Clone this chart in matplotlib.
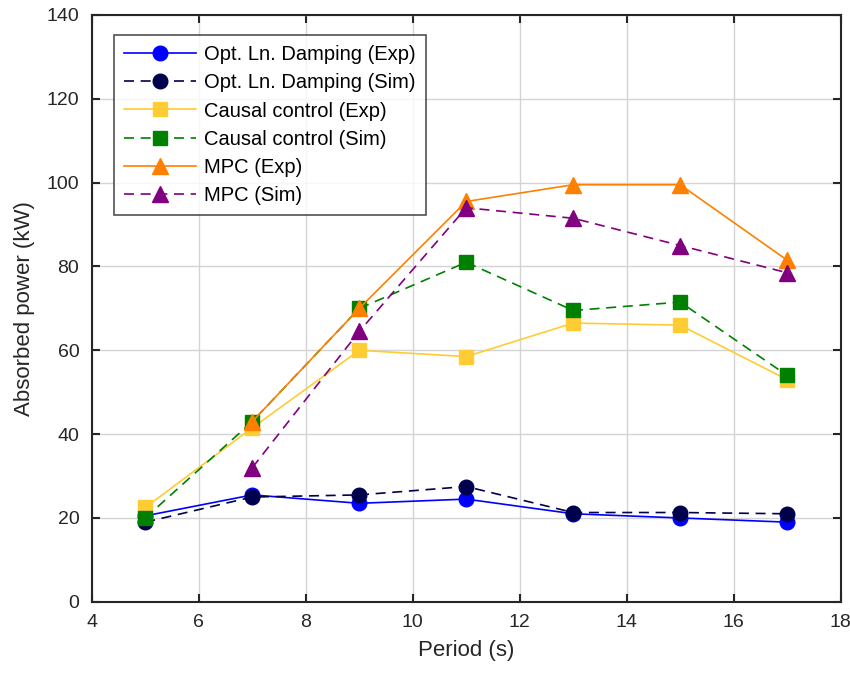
import matplotlib
matplotlib.use("Agg")
import matplotlib.pyplot as plt

plt.rcParams['font.family'] = ['Liberation Sans', 'DejaVu Sans']

periods = [5, 7, 9, 11, 13, 15, 17]
periods_mpc = [7, 9, 11, 13, 15, 17]
opt_exp = [20.5, 25.5, 23.5, 24.5, 21.0, 20.0, 19.0]
opt_sim = [19.0, 25.0, 25.5, 27.5, 21.3, 21.3, 21.0]
causal_exp = [22.5, 41.5, 60.0, 58.5, 66.5, 66.0, 53.0]
causal_sim = [20.0, 43.0, 70.0, 81.0, 69.5, 71.5, 54.0]
mpc_exp = [43.0, 70.0, 95.5, 99.5, 99.5, 81.5]
mpc_sim = [32.0, 64.5, 94.0, 91.5, 85.0, 78.5]

fig = plt.figure(figsize=(8.5, 6.8), dpi=100)
ax = fig.add_axes([0.108, 0.115, 0.881, 0.863])

ms = 10.5
lw = 1.2
dash = (0, (6, 4))
ax.plot(periods, opt_exp, '-', color=(0, 0, 1), marker='o', ms=ms, lw=lw, label='Opt. Ln. Damping (Exp)')
ax.plot(periods, opt_sim, linestyle=dash, color=(0, 0, 0.3), marker='o', ms=ms, lw=lw, label='Opt. Ln. Damping (Sim)')
ax.plot(periods, causal_exp, '-', color=(1, 0.8, 0.2), marker='s', ms=ms, lw=lw, label='Causal control (Exp)')
ax.plot(periods, causal_sim, linestyle=dash, color=(0, 0.5, 0), marker='s', ms=ms, lw=lw, label='Causal control (Sim)')
ax.plot(periods_mpc, mpc_exp, '-', color=(1, 0.5, 0), marker='^', ms=ms + 1, lw=lw, label='MPC (Exp)')
ax.plot(periods_mpc, mpc_sim, linestyle=dash, color=(0.5, 0, 0.5), marker='^', ms=ms + 1, lw=lw, label='MPC (Sim)')

ax.set_xlim(4, 18)
ax.set_ylim(0, 140)
ax.set_xticks(range(4, 19, 2))
ax.set_yticks(range(0, 141, 20))
ax.grid(True, color='#d4d4d4', lw=1.0)
ax.set_axisbelow(True)
for s in ax.spines.values():
    s.set_linewidth(1.5)
    s.set_color('#262626')
ax.tick_params(direction='in', top=True, right=True, length=6, width=1.5, labelsize=14, colors='#262626', pad=9)
ax.set_xlabel('Period (s)', fontsize=16, color='#262626', labelpad=6)
ax.set_ylabel('Absorbed power (kW)', fontsize=16, color='#262626', labelpad=8)

leg = ax.legend(loc='upper left', bbox_to_anchor=(0.029, 0.966), borderaxespad=0, fontsize=14.5, frameon=True,
                fancybox=False, edgecolor='#262626', handlelength=3.6, handletextpad=0.4,
                borderpad=0.5, labelspacing=0.46)
leg.get_frame().set_linewidth(1.2)

fig.savefig('out.png', dpi=100)
